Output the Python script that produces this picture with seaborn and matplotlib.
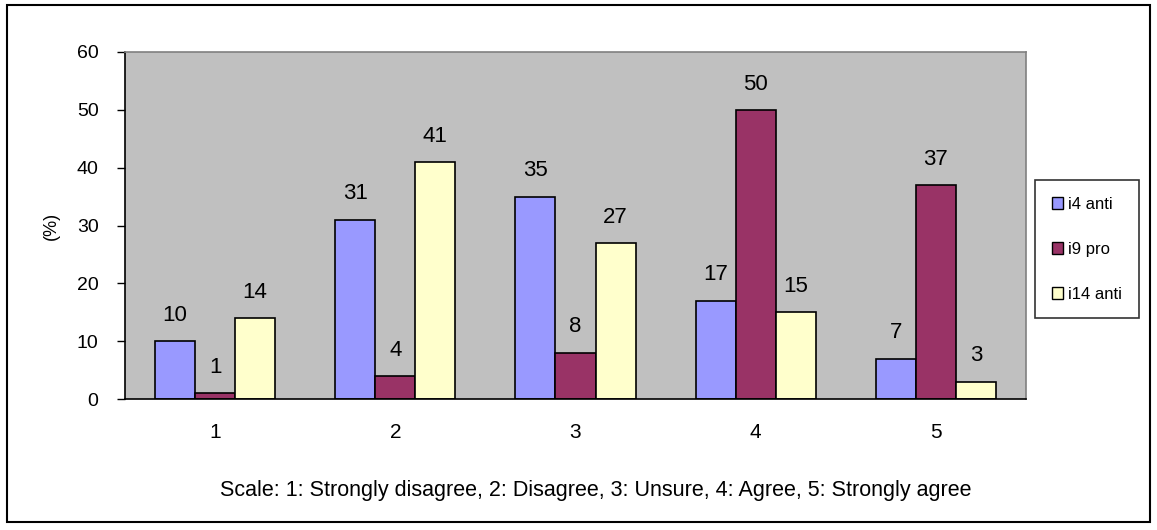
import matplotlib
matplotlib.use("Agg")
import matplotlib.pyplot as plt
from matplotlib.patches import Patch, Rectangle
import seaborn as sns
import pandas as pd

categories = ["1", "2", "3", "4", "5"]
series_names = ["i4 anti", "i9 pro", "i14 anti"]
i4_anti = [10, 31, 35, 17, 7]
i9_pro = [1, 4, 8, 50, 37]
i14_anti = [14, 41, 27, 15, 3]
colors = ["#9999FF", "#993366", "#FFFFCC"]
y_ticks = [0, 10, 20, 30, 40, 50, 60]
x_label = "Scale: 1: Strongly disagree, 2: Disagree, 3: Unsure, 4: Agree, 5: Strongly agree"
y_label = "(%)"

rows = []
for name, vals in zip(series_names, [i4_anti, i9_pro, i14_anti]):
    for cat, v in zip(categories, vals):
        rows.append({"scale": cat, "series": name, "value": v})
df = pd.DataFrame(rows)

sns.set_theme(style="white")
plt.rcParams["font.family"] = ["Liberation Sans", "DejaVu Sans"]
for key in ["text.color", "axes.labelcolor", "xtick.color", "ytick.color"]:
    plt.rcParams[key] = "black"

W, H = 1157, 530
fig = plt.figure(figsize=(W / 100, H / 100), dpi=100)
ax = fig.add_axes([125 / W, 1 - 399 / H, (1026 - 125) / W, (399 - 52) / H])

sns.barplot(data=df, x="scale", y="value", hue="series", order=categories,
            hue_order=series_names, palette=colors, width=0.667, gap=0,
            edgecolor="black", linewidth=1.2, saturation=1, legend=False, ax=ax)

ax.set_facecolor("#C0C0C0")
ax.set_ylim(0, 60)
ax.set_xlim(-0.5, 4.5)
ax.set_yticks(y_ticks)
ax.set_yticklabels([str(t) for t in y_ticks], fontsize=14)
ax.set_xticks(range(len(categories)))
ax.set_xticklabels(categories, fontsize=15)
ax.set_xticks([i - 0.5 for i in range(len(categories) + 1)], minor=True)
ax.tick_params(axis="x", which="major", length=0, pad=17)
ax.tick_params(axis="x", which="minor", length=6, width=1, color="black", direction="out")
ax.tick_params(axis="y", length=6, width=1, color="black", direction="out", pad=13, left=True)

for side in ["left", "bottom"]:
    ax.spines[side].set_color("black")
    ax.spines[side].set_linewidth(1.2)
for side in ["top", "right"]:
    ax.spines[side].set_color("#808080")
    ax.spines[side].set_linewidth(1.2)

ax.set_xlabel(x_label, fontsize=15.5)
ax.xaxis.set_label_coords(0.522, -0.232)
ax.set_ylabel(y_label, fontsize=13, labelpad=12)

for container in ax.containers:
    for bar in container:
        h = bar.get_height()
        ax.annotate(f"{h:.0f}", (bar.get_x() + bar.get_width() / 2, h),
                    xytext=(0, 11), textcoords="offset points",
                    ha="center", va="bottom", fontsize=16)

handles = [Patch(facecolor=c, edgecolor="black", linewidth=1) for c in colors]
leg = fig.legend(handles, series_names, loc="upper left",
                 bbox_to_anchor=(1035 / W, 1 - 180 / H), fontsize=12,
                 frameon=True, fancybox=False, edgecolor="black",
                 handlelength=0.7, handleheight=0.7, handletextpad=0.3,
                 labelspacing=1.8, borderpad=1.0, borderaxespad=0)
leg.get_frame().set_linewidth(1.2)

fig.patches.append(Rectangle((7 / W, 1 - 522 / H), (1150 - 7) / W, (522 - 5) / H,
                             transform=fig.transFigure, fill=False,
                             edgecolor="black", linewidth=1.5))

fig.savefig("out.png", dpi=100)
